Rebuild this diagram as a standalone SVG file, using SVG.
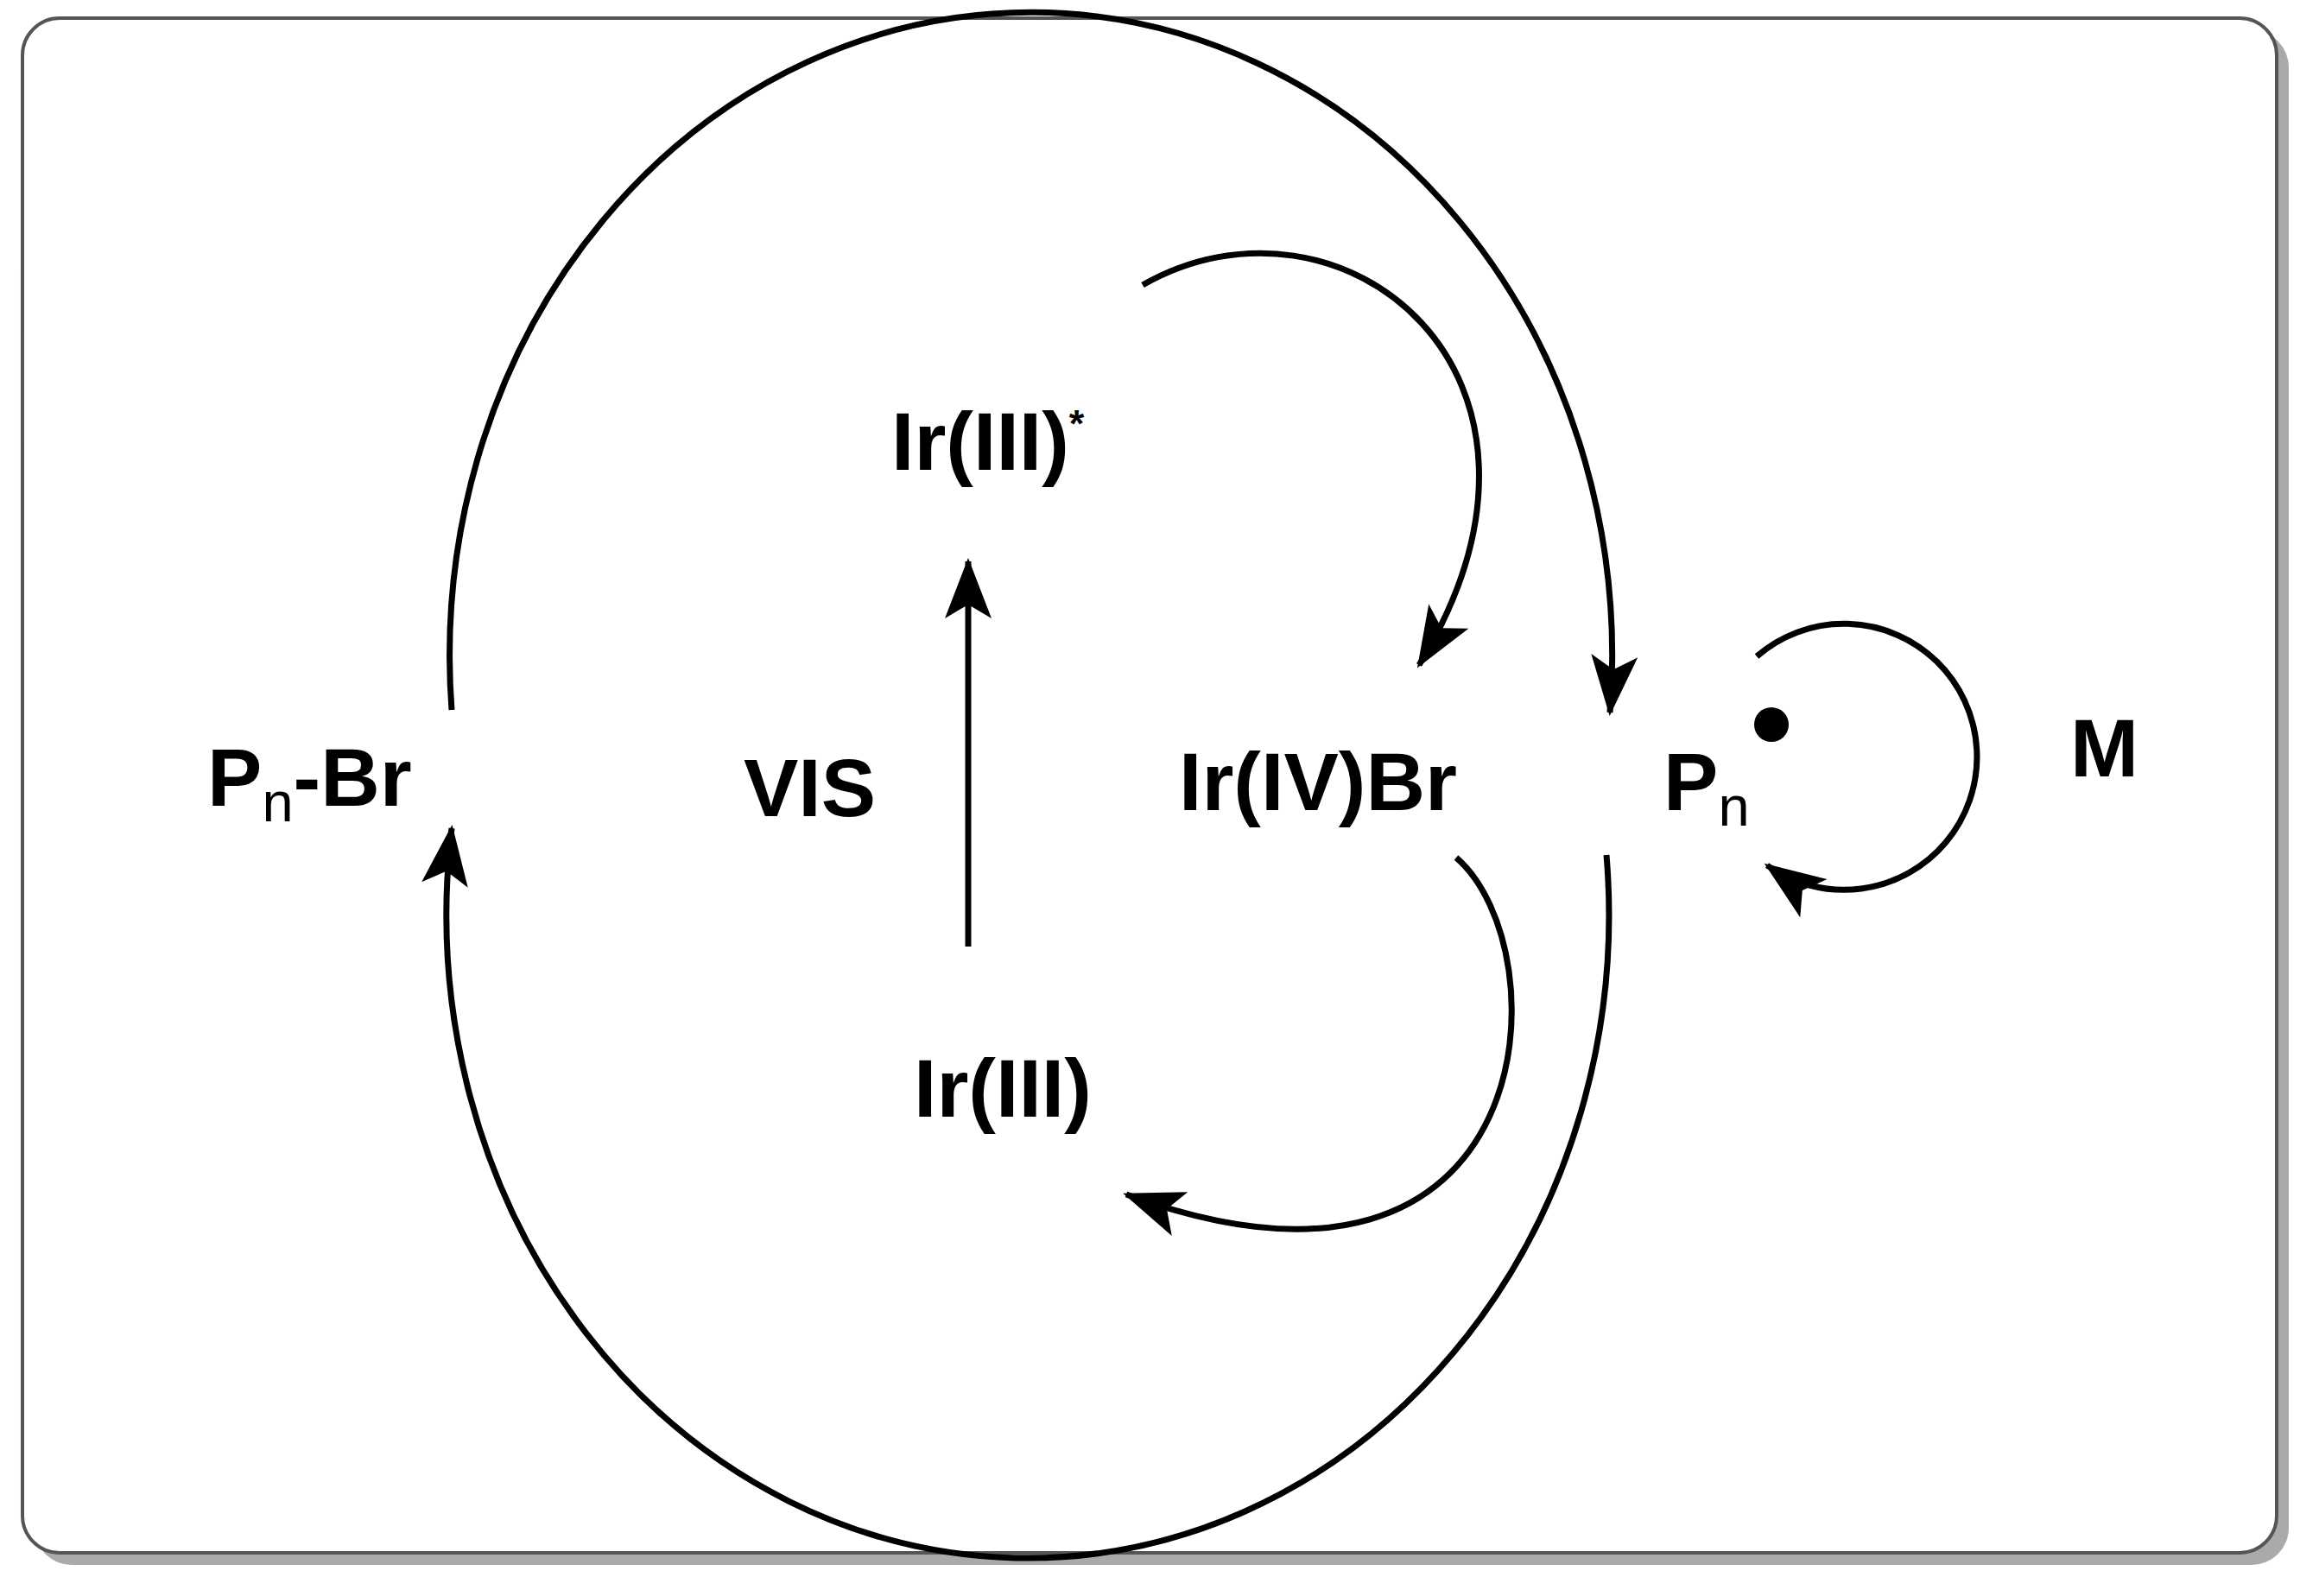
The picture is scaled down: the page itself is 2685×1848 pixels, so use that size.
<svg xmlns="http://www.w3.org/2000/svg" width="2685" height="1848" viewBox="0 0 2685 1848">
<style>
.t{font-family:"Liberation Sans",Arial,sans-serif;font-weight:bold;font-size:95px;fill:#000}
.c{fill:none;stroke:#000;stroke-width:7}
</style>
<defs>
<marker id="ah" markerWidth="100" markerHeight="100" markerUnits="userSpaceOnUse" refX="0" refY="0" orient="auto" style="overflow:visible">
<path d="M4,0 L-66,-27 L-50,0 L-66,27 Z" fill="#000"/>
</marker>
</defs>
<rect x="40" y="35" width="2610" height="1777" rx="43" fill="#aaa"/>
<rect x="26" y="21" width="2610" height="1777" rx="43" fill="#fff" stroke="#555" stroke-width="4"/>
<g id="connectors">
<path class="c" d="M523,822 A673 745 0 1 1 1864,825" marker-end="url(#ah)"/>
<path class="c" d="M1860,990 A673 745 0 1 1 523,959" marker-end="url(#ah)"/>
<path class="c" d="M1323,330 C1550,200 1850,430 1643,770" marker-end="url(#ah)"/>
<path class="c" d="M1686,993 C1810,1100 1790,1560 1304,1383" marker-end="url(#ah)"/>
<path class="c" d="M1121,1096 L1121,650" marker-end="url(#ah)"/>
<path class="c" d="M2034,760 A154 154 0 1 1 2046,1002" marker-end="url(#ah)"/>
</g>
<g id="irIIIstar"><text class="t" x="1032" y="544">Ir(III)<tspan font-size="45" dy="-38">*</tspan></text></g>
<g id="vis"><text class="t" x="861" y="945">VIS</text></g>
<g id="irIVBr"><text class="t" x="1365" y="938">Ir(IV)Br</text></g>
<g id="pn"><text class="t" x="1926" y="938">P<tspan font-size="65" dy="18" font-weight="normal">n</tspan></text><circle cx="2051" cy="839" r="20"/></g>
<g id="m"><text class="t" x="2397" y="899">M</text></g>
<g id="pnbr"><text class="t" x="240" y="933">P<tspan font-size="65" dy="18" font-weight="normal">n</tspan><tspan dy="-18">-Br</tspan></text></g>
<g id="irIII"><text class="t" x="1058" y="1293">Ir(III)</text></g>
</svg>
